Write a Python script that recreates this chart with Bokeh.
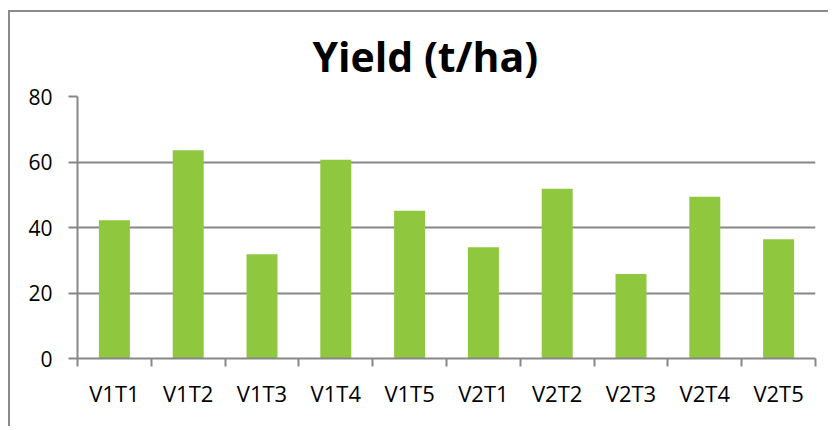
from bokeh.plotting import figure
from bokeh.models import Range1d, FixedTicker
from bokeh.embed import file_html
from bokeh.resources import INLINE

categories = ["V1T1", "V1T2", "V1T3", "V1T4", "V1T5",
              "V2T1", "V2T2", "V2T3", "V2T4", "V2T5"]
yield_values = [42.2, 63.6, 31.8, 60.7, 45.1, 34.0, 51.8, 25.8, 49.4, 36.4]
y_ticks = [0, 20, 40, 60, 80]
title_text = "Yield (t/ha)"

n = len(categories)
x_pos = [i + 0.5 for i in range(n)]

p = figure(width=820, height=416, output_backend="svg", toolbar_location=None,
           x_range=Range1d(0, n), y_range=Range1d(0, 80),
           min_border_left=67, min_border_right=15, min_border_top=84,
           min_border_bottom=70, title=title_text)

p.title.text_font = "Open Sans"
p.title.text_font_style = "bold"
p.title.text_font_size = "41px"
p.title.align = "left"
p.title.offset = 235
p.title.standoff = 26
p.title.text_color = "black"

p.vbar(x=x_pos, top=yield_values, width=0.42, bottom=0,
       fill_color="#8FC73E", line_color=None)

grid_color = "#878787"
p.outline_line_color = None
p.background_fill_color = "white"
p.border_fill_color = "white"

p.xgrid.grid_line_color = None
p.ygrid.ticker = FixedTicker(ticks=y_ticks)
p.ygrid.grid_line_color = grid_color
p.ygrid.grid_line_width = 2

p.yaxis.ticker = FixedTicker(ticks=y_ticks)
p.yaxis.axis_line_color = grid_color
p.yaxis.axis_line_width = 2
p.yaxis.major_tick_line_color = grid_color
p.yaxis.major_tick_line_width = 2
p.yaxis.major_tick_out = 9
p.yaxis.major_tick_in = 0
p.yaxis.minor_tick_line_color = None
p.yaxis.major_label_text_font = "Open Sans"
p.yaxis.major_label_text_font_size = "21px"
p.yaxis.major_label_text_color = "black"
p.yaxis.major_label_standoff = 16

p.xaxis.ticker = FixedTicker(ticks=x_pos, minor_ticks=list(range(n + 1)))
p.xaxis.major_label_overrides = {x: c for x, c in zip(x_pos, categories)}
p.xaxis.axis_line_color = grid_color
p.xaxis.axis_line_width = 2
p.xaxis.major_tick_line_color = None
p.xaxis.major_tick_out = 8
p.xaxis.minor_tick_line_color = grid_color
p.xaxis.minor_tick_line_width = 2
p.xaxis.minor_tick_out = 8
p.xaxis.minor_tick_in = 0
p.xaxis.major_label_text_font = "Open Sans"
p.xaxis.major_label_text_font_size = "22px"
p.xaxis.major_label_text_color = "black"
p.xaxis.major_label_standoff = 11

p.styles = {"margin-left": "8px", "margin-top": "10px",
            "border-left": "2px solid #8a8a8a", "border-top": "2px solid #8a8a8a"}

open("out.html", "w").write(file_html(p, INLINE))
